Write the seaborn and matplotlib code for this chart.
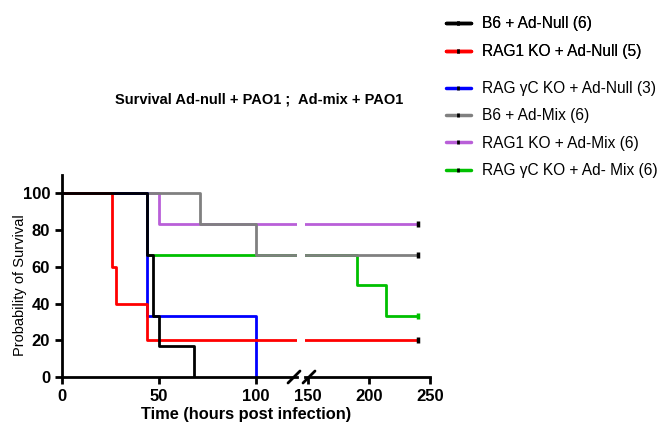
import numpy as np
import pandas as pd
import matplotlib
matplotlib.use('Agg')
import matplotlib.pyplot as plt
from matplotlib.lines import Line2D
import seaborn as sns

# Kaplan-Meier step points (time in hours, survival in %)
groups = ['B6 + Ad-Null (6)', 'RAG1 KO + Ad-Null (5)', 'RAG \u03b3C KO + Ad-Null (3)',
          'B6 + Ad-Mix (6)', 'RAG1 KO + Ad-Mix (6)', 'RAG \u03b3C KO + Ad- Mix (6)']
colors = ['black', '#ff0000', '#0000ff', '#808080', '#b95fd8', '#00c000']

t_b6_null = [0, 44, 46.7, 50, 68]
s_b6_null = [100, 66.7, 33.3, 16.7, 0]
t_rag1_null = [0, 26, 28, 44, 240]
s_rag1_null = [100, 60, 40, 20, 20]
t_ragc_null = [0, 44, 100]
s_ragc_null = [100, 33.3, 0]
t_b6_mix = [0, 71, 100, 240]
s_b6_mix = [100, 83.3, 66.7, 66.7]
t_rag1_mix = [0, 50, 240]
s_rag1_mix = [100, 83.3, 83.3]
t_ragc_mix = [0, 44, 190, 214, 240]
s_ragc_mix = [100, 66.7, 50, 33.3, 33.3]

all_t = [t_b6_null, t_rag1_null, t_ragc_null, t_b6_mix, t_rag1_mix, t_ragc_mix]
all_s = [s_b6_null, s_rag1_null, s_ragc_null, s_b6_mix, s_rag1_mix, s_ragc_mix]
censored = [False, True, False, True, True, True]

rows = []
for g, ts, ss in zip(groups, all_t, all_s):
    for t, s in zip(ts, ss):
        rows.append({'group': g, 'time': t, 'survival': s})
df = pd.DataFrame(rows)

sns.set_style('ticks')
plt.rcParams['font.family'] = ['Liberation Sans', 'DejaVu Sans']
plt.rcParams.update({'text.color': 'black', 'axes.labelcolor': 'black',
                     'xtick.color': 'black', 'ytick.color': 'black',
                     'axes.edgecolor': 'black'})

W, H = 666, 425
fig = plt.figure(figsize=(W / 100, H / 100), dpi=100)

def fx(px):
    return px / W

def fy(py):
    return 1 - py / H

ax1 = fig.add_axes([fx(62), fy(377), fx(297) - fx(62), fy(175) - fy(377)])
ax2 = fig.add_axes([fx(305), fy(377), fx(430) - fx(305), fy(175) - fy(377)])

palette = dict(zip(groups, colors))
draw_order = groups[::-1]
for ax in (ax1, ax2):
    sns.lineplot(data=df, x='time', y='survival', hue='group', hue_order=draw_order,
                 palette=palette, estimator=None, sort=False, drawstyle='steps-post',
                 linewidth=2, legend=False, ax=ax)
    ax.set_ylim(0, 110)
    ax.set_xlabel('')
    ax.set_ylabel('')
    for sp in ax.spines.values():
        sp.set_linewidth(2)
    ax.tick_params(width=2, length=5, labelsize=12)

# censor marks at end of follow-up
for g, ts, ss, c, col in zip(groups, all_t, all_s, censored, colors):
    if c:
        mc = col if col == '#00c000' else 'black'
        ax2.plot(ts[-1], ss[-1], marker='|', color=mc, markersize=5, mew=2.5, clip_on=False, zorder=5)

ax1.set_xlim(0, 121)
ax1.set_xticks([0, 50, 100])
ax1.set_yticks([0, 20, 40, 60, 80, 100])
ax1.spines['top'].set_visible(False)
ax1.spines['right'].set_visible(False)
for lab in ax1.get_xticklabels() + ax1.get_yticklabels():
    lab.set_fontweight('bold')

ax2.set_xlim(147.5, 250)
ax2.set_xticks([150, 200, 250])
ax2.set_yticks([])
ax2.spines['top'].set_visible(False)
ax2.spines['right'].set_visible(False)
ax2.spines['left'].set_visible(False)
for lab in ax2.get_xticklabels():
    lab.set_fontweight('bold')

# axis break slashes
for cx in (294, 309):
    fig.add_artist(Line2D([fx(cx - 6), fx(cx + 6)], [fy(383), fy(371)], color='black', lw=2))

fig.text(fx(259), fy(100), 'Survival Ad-null + PAO1 ;  Ad-mix + PAO1', ha='center', va='center',
         fontsize=10.5, fontweight='bold')
fig.text(fx(246), fy(415), 'Time (hours post infection)', ha='center', va='center',
         fontsize=11.8, fontweight='bold')
fig.text(fx(20), fy(285), 'Probability of Survival', ha='center', va='center',
         rotation=90, fontsize=10.5)

def handle(col):
    return Line2D([], [], color=col, lw=2.5, marker='|', markersize=3.5, mec='black', mew=2)

leg1 = fig.legend([handle(c) for c in colors[:2]], groups[:2], loc='upper left',
                  bbox_to_anchor=(fx(432), fy(2)), frameon=False, fontsize=11.2,
                  handlelength=1.6, labelspacing=0.85, handletextpad=0.7)
fig.add_artist(leg1)
fig.legend([handle(c) for c in colors[2:]], groups[2:], loc='upper left',
           bbox_to_anchor=(fx(432), fy(67)), frameon=False, fontsize=11.2,
           handlelength=1.6, labelspacing=0.8, handletextpad=0.7)

fig.savefig('out.png', dpi=100)
